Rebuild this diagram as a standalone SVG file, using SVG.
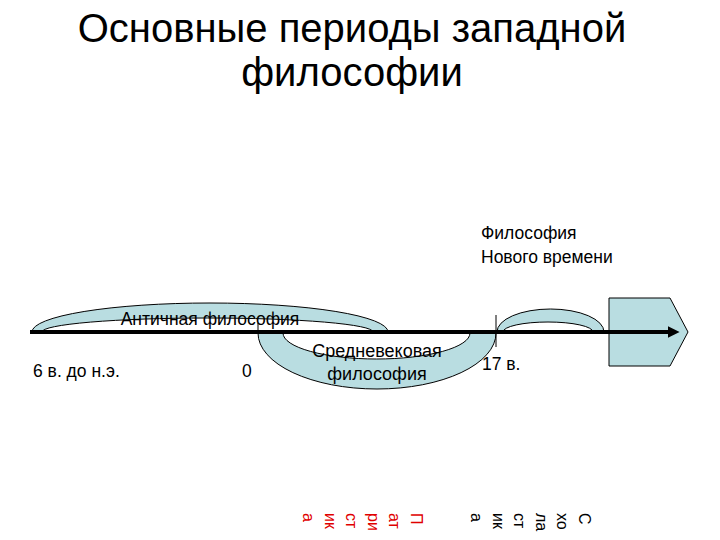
<svg xmlns="http://www.w3.org/2000/svg" width="720" height="540" viewBox="0 0 720 540">
<defs>
<style>
text{font-family:"Liberation Sans",Arial,sans-serif;fill:#000}
.shape{fill:#b9dde1;stroke:#000;stroke-width:1}
.lbl{font-size:17.5px}
.vt{font-size:16px}
</style>
<marker id="ah" viewBox="0 0 10 10" refX="2" refY="5" markerWidth="3" markerHeight="3" orient="auto" markerUnits="strokeWidth">
<path d="M0,0 L10,5 L0,10 z" fill="#000"/>
</marker>
</defs>
<rect width="720" height="540" fill="#fff"/>
<g id="title">
<text x="352" y="42" font-size="40" text-anchor="middle">Основные периоды западной</text>
<text x="352" y="86" font-size="40" text-anchor="middle">философии</text>
</g>
<g id="modern-box">
<path class="shape" d="M609,298 L670,298 L688,332 L670,366 L609,366 z"/>
</g>
<g id="antique">
<path class="shape" d="M32,332 A178,29 0 0 1 388,332 L373,332 A165.5,14 0 0 0 42,332 z"/>
<text class="lbl" x="210" y="325" text-anchor="middle">Античная философия</text>
</g>
<g id="medieval">
<path class="shape" d="M258,333 A119,56 0 0 0 496,333 L470,333 A93.5,26 0 0 1 283,333 z"/>
<text x="377" y="357" font-size="18" text-anchor="middle">Средневековая</text>
<text x="377" y="380" font-size="18" text-anchor="middle">философия</text>
</g>
<g id="modern">
<path class="shape" d="M497,332 A53.5,23 0 0 1 604,332 L593,332 A45,10 0 0 0 503,332 z"/>
<text class="lbl" x="481" y="239">Философия</text>
<text class="lbl" x="481" y="263">Нового времени</text>
</g>
<g id="connectors">
<line x1="30" y1="332" x2="670" y2="332" stroke="#000" stroke-width="4" marker-end="url(#ah)"/>
<line x1="258" y1="323" x2="258" y2="334" stroke="#000" stroke-width="1"/>
<line x1="496" y1="315" x2="496" y2="347" stroke="#000" stroke-width="1"/>
</g>
<g id="labels">
<text class="lbl" x="33" y="377">6 в. до н.э.</text>
<text class="lbl" x="242" y="377">0</text>
<text x="482" y="370" font-size="17.5">17 в.</text>
</g>
<g id="patristika">
<text class="vt" transform="translate(411,513) rotate(90)" style="fill:#e00000"><tspan x="0" y="0">П</tspan><tspan x="0" dy="21.6">ат</tspan><tspan x="0" dy="21.6">ри</tspan><tspan x="0" dy="21.6">ст</tspan><tspan x="0" dy="21.6">ик</tspan><tspan x="0" dy="21.6">а</tspan></text>
</g>
<g id="scholastika">
<text class="vt" transform="translate(579,513) rotate(90)"><tspan x="0" y="0">С</tspan><tspan x="0" dy="21.6">хо</tspan><tspan x="0" dy="21.6">ла</tspan><tspan x="0" dy="21.6">ст</tspan><tspan x="0" dy="21.6">ик</tspan><tspan x="0" dy="21.6">а</tspan></text>
</g>
</svg>
